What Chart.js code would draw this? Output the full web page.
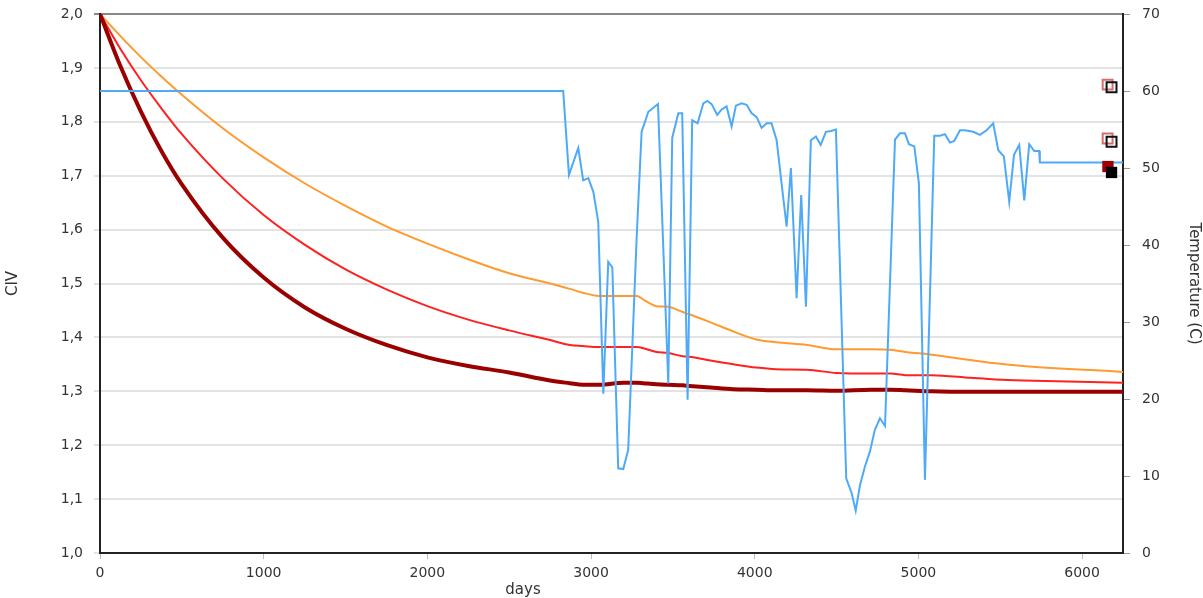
<!DOCTYPE html>
<html>
<head>
<meta charset="utf-8">
<title>CIV vs days</title>
<script src="https://cdn.jsdelivr.net/npm/chart.js@4/dist/chart.umd.min.js"></script>
<style>
  body { margin: 0; background: #fff; }
  canvas { display: block; }
</style>
</head>
<body>
<canvas id="chart" width="1203" height="598"></canvas>
<script>
/* CIV decay curves and temperature history. */

// days shared by the three CIV curves
const days = [0, 125, 250, 375, 500, 750, 1000, 1250, 1500, 1750, 2000, 2250, 2500, 2750, 2870,
    2950, 3050, 3200, 3280, 3320, 3400, 3470, 3560, 3600, 3730, 3870, 4010, 4130, 4320, 4500,
    4710, 4830, 4920, 5080, 5320, 5470, 5640, 6250];

const civOrange = [2.000, 1.959, 1.920, 1.884, 1.850, 1.788, 1.734, 1.686, 1.644, 1.606, 1.574, 1.545,
    1.519, 1.500, 1.490, 1.483, 1.477, 1.477, 1.477, 1.470, 1.458, 1.457, 1.447, 1.443, 1.428,
    1.411, 1.396, 1.391, 1.386, 1.378, 1.378, 1.377, 1.373, 1.368, 1.358, 1.352, 1.347, 1.336];

const civRed = [2.000, 1.935, 1.877, 1.825, 1.777, 1.695, 1.627, 1.572, 1.526, 1.489, 1.458, 1.433,
    1.413, 1.395, 1.386, 1.384, 1.382, 1.382, 1.382, 1.380, 1.373, 1.371, 1.365, 1.364, 1.357,
    1.350, 1.344, 1.341, 1.340, 1.334, 1.333, 1.333, 1.330, 1.330, 1.325, 1.322, 1.320, 1.316];

const civDarkRed = [2.000, 1.903, 1.819, 1.746, 1.684, 1.585, 1.511, 1.456, 1.416, 1.386, 1.363, 1.347,
    1.335, 1.320, 1.315, 1.312, 1.312, 1.316, 1.316, 1.315, 1.313, 1.312, 1.311, 1.310, 1.307,
    1.304, 1.303, 1.302, 1.302, 1.301, 1.303, 1.303, 1.302, 1.300, 1.299, 1.299, 1.299, 1.299];

// temperature (right axis)
const tempDays = [0, 2830, 2865, 2922, 2952, 2983, 3014, 3044, 3075, 3105, 3130, 3166, 3197, 3227,
    3279, 3309, 3350, 3409, 3472, 3496, 3533, 3557, 3590, 3618, 3651, 3686, 3710, 3737, 3771,
    3798, 3828, 3859, 3885, 3920, 3951, 3981, 4012, 4042, 4073, 4103, 4134, 4164, 4195, 4221,
    4256, 4284, 4313, 4343, 4374, 4403, 4435, 4466, 4496, 4559, 4592, 4617, 4643, 4673, 4704,
    4734, 4765, 4796, 4857, 4887, 4918, 4942, 4975, 5003, 5040, 5097, 5132, 5162, 5193, 5219,
    5254, 5284, 5335, 5376, 5417, 5457, 5488, 5522, 5555, 5584, 5616, 5647, 5677, 5708, 5738,
    5742, 6250];

const tempValues = [60.0, 60.0, 49.1, 52.6, 48.4, 48.7, 46.9, 43.0, 20.7, 37.8, 37.1, 11.0, 10.9, 13.4,
    41.1, 54.7, 57.3, 58.3, 22.0, 53.9, 57.1, 57.1, 19.9, 56.2, 55.8, 58.4, 58.7, 58.3, 56.9,
    57.6, 58.0, 55.4, 58.1, 58.4, 58.2, 57.1, 56.6, 55.2, 55.8, 55.8, 53.6, 48.0, 42.4, 50.0,
    33.1, 46.5, 32.0, 53.6, 54.1, 53.0, 54.7, 54.8, 55.0, 9.7, 7.8, 5.5, 8.8, 11.2, 13.2,
    16.0, 17.5, 16.5, 53.7, 54.5, 54.5, 53.1, 52.8, 48.0, 9.5, 54.2, 54.2, 54.4, 53.3, 53.5,
    54.9, 54.9, 54.7, 54.3, 54.9, 55.8, 52.3, 51.5, 45.6, 51.7, 53.0, 45.8, 53.1, 52.2, 52.2,
    50.7, 50.7];

// measured points near the end
const measuredRedDays = [6156, 6156];
const measuredRedCiv = [1.869, 1.769];
const measuredBlackDays = [6180, 6180];
const measuredBlackCiv = [1.864, 1.763];
const filledRed = [6158, 1.717];
const filledBlack = [6180, 1.706];

const xTicks = [0, 1000, 2000, 3000, 4000, 5000, 6000];

function toPoints(xs, ys) {
    return xs.map((x, i) => ({ x: x, y: ys[i] }));
}

function curve(label, data, color, width, order) {
    return {
        label: label,
        data: toPoints(days, data),
        borderColor: color,
        borderWidth: width,
        pointRadius: 0,
        cubicInterpolationMode: 'monotone',
        yAxisID: 'y',
        order: order
    };
}

const daysTitle = {
    id: 'daysTitle',
    afterDraw(chart) {
        const ctx = chart.ctx;
        ctx.save();
        ctx.font = "15px 'DejaVu Sans', Verdana, sans-serif";
        ctx.fillStyle = '#333';
        ctx.textAlign = 'center';
        ctx.textBaseline = 'middle';
        ctx.fillText('days', chart.chartArea.left + 423, 590);
        ctx.restore();
    }
};

Chart.defaults.font.family = "'DejaVu Sans', Verdana, sans-serif";
Chart.defaults.font.size = 14;
Chart.defaults.color = '#333';

new Chart(document.getElementById('chart'), {
    type: 'line',
    data: {
        datasets: [
            {
                label: 'measured black',
                data: toPoints(measuredBlackDays, measuredBlackCiv),
                showLine: false,
                pointStyle: 'rect',
                pointRadius: 7,
                pointBorderWidth: 2,
                pointBorderColor: '#111',
                pointBackgroundColor: 'rgba(0,0,0,0)',
                yAxisID: 'y',
                order: 0
            },
            {
                label: 'filled black',
                data: [{ x: filledBlack[0], y: filledBlack[1] }],
                showLine: false,
                pointStyle: 'rect',
                pointRadius: 8,
                pointBorderWidth: 0,
                pointBackgroundColor: '#000',
                yAxisID: 'y',
                order: 0
            },
            {
                label: 'measured red',
                data: toPoints(measuredRedDays, measuredRedCiv),
                showLine: false,
                pointStyle: 'rect',
                pointRadius: 7,
                pointBorderWidth: 2,
                pointBorderColor: 'rgba(200,60,60,0.75)',
                pointBackgroundColor: 'rgba(0,0,0,0)',
                yAxisID: 'y',
                order: 1
            },
            {
                label: 'filled red',
                data: [{ x: filledRed[0], y: filledRed[1] }],
                showLine: false,
                pointStyle: 'rect',
                pointRadius: 8,
                pointBorderWidth: 0,
                pointBackgroundColor: '#a00000',
                yAxisID: 'y',
                order: 1
            },
            {
                label: 'Temperature',
                data: toPoints(tempDays, tempValues),
                borderColor: '#4eaaf7',
                borderWidth: 2,
                pointRadius: 0,
                tension: 0,
                yAxisID: 'y2',
                order: 2
            },
            curve('CIV dark red', civDarkRed, '#9b0000', 4, 3),
            curve('CIV red', civRed, '#ff2020', 2, 4),
            curve('CIV orange', civOrange, '#ff9a30', 2, 5)
        ]
    },
    options: {
        responsive: false,
        animation: false,
        layout: { padding: { top: 14, left: 0, right: 0, bottom: 0 } },
        plugins: {
            legend: { display: false },
            tooltip: { enabled: false }
        },
        scales: {
            x: {
                type: 'linear',
                min: 0,
                max: 6250,
                afterBuildTicks: scale => {
                    scale.ticks = xTicks.map(v => ({ value: v }));
                },
                afterFit: scale => { scale.height = 45; },
                ticks: { padding: 6, callback: v => String(v) },
                grid: { drawOnChartArea: false, tickLength: 6, color: '#bbb' },
                border: { color: '#222', width: 2 }
            },
            y: {
                position: 'left',
                min: 1.0,
                max: 2.0,
                ticks: {
                    stepSize: 0.1,
                    padding: 11,
                    callback: v => v.toFixed(1).replace('.', ',')
                },
                afterFit: scale => {
                    scale.width = 100;
                    scale.paddingTop = 0;
                },
                grid: {
                    color: c => (c.tick && Math.abs(c.tick.value - 2) < 1e-6) ? '#888' : '#e3e3e3',
                    lineWidth: 2,
                    tickLength: 6
                },
                border: { color: '#222', width: 2 },
                title: {
                    display: true,
                    text: 'CIV',
                    font: { size: 15 },
                    padding: { top: 4, bottom: 0 }
                }
            },
            y2: {
                position: 'right',
                min: 0,
                max: 70,
                ticks: { stepSize: 10, padding: 12 },
                afterFit: scale => {
                    scale.width = 80;
                    scale.paddingTop = 0;
                },
                grid: { drawOnChartArea: false, tickLength: 7, color: '#999' },
                border: { color: '#222', width: 2 },
                title: {
                    display: true,
                    text: 'Temperature (C)',
                    font: { size: 15 },
                    padding: { top: 0, bottom: 4 }
                }
            }
        }
    },
    plugins: [daysTitle]
});
</script>
</body>
</html>
